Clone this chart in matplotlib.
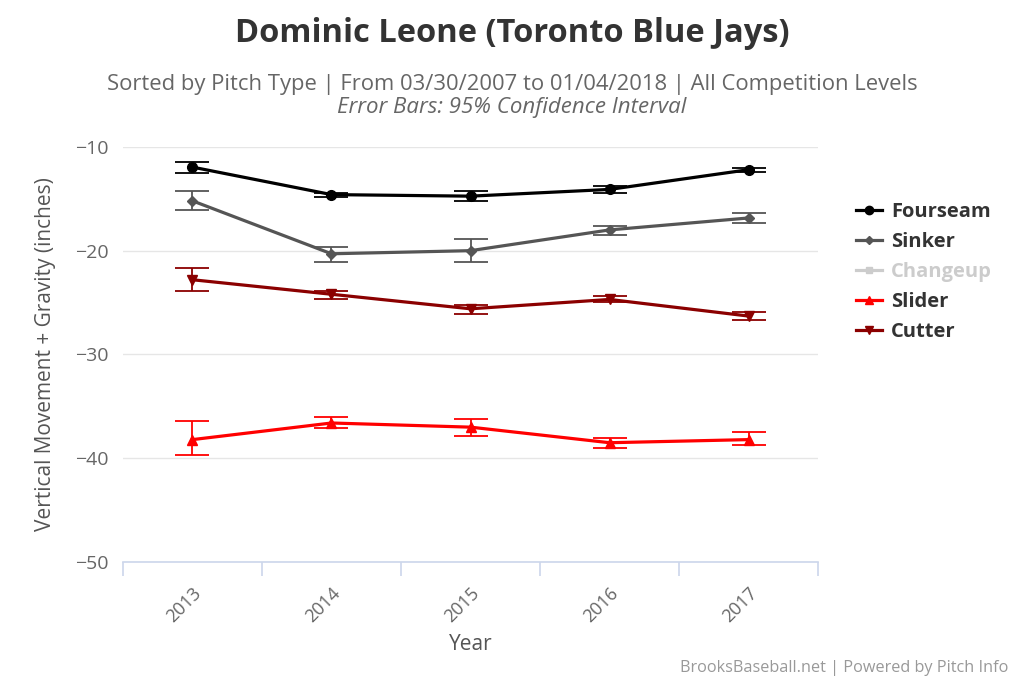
import matplotlib.pyplot as plt
from matplotlib.lines import Line2D

plt.rcParams['font.family'] = ['Open Sans', 'DejaVu Sans']

# Data
years = ["2013", "2014", "2015", "2016", "2017"]

fourseam = [-11.95, -14.6, -14.75, -14.1, -12.2]
fourseam_lo = [-12.5, -14.8, -15.2, -14.4, -12.4]
fourseam_hi = [-11.5, -14.4, -14.3, -13.8, -12.0]

sinker = [-15.2, -20.3, -20.0, -18.0, -16.85]
sinker_lo = [-16.1, -21.05, -21.05, -18.5, -17.3]
sinker_hi = [-14.3, -19.6, -18.9, -17.6, -16.4]

slider = [-38.2, -36.6, -37.0, -38.5, -38.2]
slider_lo = [-39.7, -37.1, -37.9, -39.0, -38.7]
slider_hi = [-36.4, -36.0, -36.2, -38.0, -37.5]

cutter = [-22.8, -24.2, -25.6, -24.7, -26.3]
cutter_lo = [-23.9, -24.7, -26.1, -24.95, -26.7]
cutter_hi = [-21.7, -23.9, -25.2, -24.35, -25.9]

series = [
    ("Fourseam", fourseam, fourseam_lo, fourseam_hi, "#000000", "o", 7),
    ("Sinker", sinker, sinker_lo, sinker_hi, "#555555", "D", 5),
    ("Slider", slider, slider_lo, slider_hi, "#ff0000", "^", 7),
    ("Cutter", cutter, cutter_lo, cutter_hi, "#8b0000", "v", 7),
]

fig = plt.figure(figsize=(10.24, 6.83), dpi=100)
ax = fig.add_axes([0.120, 0.177, 0.679, 0.608])

x = list(range(len(years)))
for name, vals, lo, hi, color, marker, ms in series:
    err = [[v - l for v, l in zip(vals, lo)], [h - v for v, h in zip(vals, hi)]]
    ax.errorbar(x, vals, yerr=err, color=color, ecolor=color, elinewidth=1.3,
                capsize=12, capthick=1.3, zorder=2, fmt="none")
    ax.plot(x, vals, color=color, lw=2.3, marker=marker, ms=ms, zorder=3)

ax.set_xlim(-0.5, 4.5)
ax.set_ylim(-50, -10)
ax.set_yticks([-10, -20, -30, -40, -50])
ax.set_yticklabels(["\u221210", "\u221220", "\u221230", "\u221240", "\u221250"])
ax.yaxis.grid(True, color="#e6e6e6", lw=1)
ax.set_axisbelow(True)
for s in ["top", "right", "left"]:
    ax.spines[s].set_visible(False)
ax.spines["bottom"].set_color("#ccd6eb")
ax.spines["bottom"].set_linewidth(1.2)
ax.tick_params(axis="y", length=0, labelsize=14, labelcolor="#666666", pad=10)

ax.set_xticks(x)
ax.set_xticklabels(years, rotation=45, ha="right", rotation_mode="anchor")
ax.tick_params(axis="x", length=0, labelsize=13, labelcolor="#666666", pad=16)
ax.set_xticks([i - 0.5 for i in range(len(years) + 1)], minor=True)
ax.tick_params(axis="x", which="minor", length=10, color="#ccd6eb", width=1.2)

ax.set_xlabel("Year", fontsize=15, color="#555555", labelpad=6)
ax.set_ylabel("Vertical Movement + Gravity (inches)", fontsize=15, color="#555555", labelpad=14)

fig.text(0.5, 0.951, "Dominic Leone (Toronto Blue Jays)", ha="center", va="center",
         fontsize=23.5, fontweight="bold", color="#333333")
fig.text(0.5, 0.877, "Sorted by Pitch Type | From 03/30/2007 to 01/04/2018 | All Competition Levels",
         ha="center", va="center", fontsize=15.8, color="#666666")
fig.text(0.5, 0.842, "Error Bars: 95% Confidence Interval", ha="center", va="center",
         fontsize=16, color="#666666", style="italic")
fig.text(0.985, 0.022, "BrooksBaseball.net | Powered by Pitch Info", ha="right", va="center",
         fontsize=11.7, color="#999999")

handles = [
    Line2D([], [], color="#000000", lw=2.3, marker="o", ms=6),
    Line2D([], [], color="#555555", lw=2.3, marker="D", ms=4),
    Line2D([], [], color="#cccccc", lw=2.3, marker="s", ms=5),
    Line2D([], [], color="#ff0000", lw=2.3, marker="^", ms=6),
    Line2D([], [], color="#8b0000", lw=2.3, marker="v", ms=6),
]
labels = ["Fourseam", "Sinker", "Changeup", "Slider", "Cutter"]
leg = fig.legend(handles, labels, loc="upper left", bbox_to_anchor=(0.818, 0.731),
                 frameon=False, handlelength=1.3, labelspacing=0.5,
                 handletextpad=0.45, prop={"weight": "bold", "size": 14.5})
for t, c in zip(leg.get_texts(), ["#333333", "#333333", "#cccccc", "#333333", "#333333"]):
    t.set_color(c)

fig.savefig("out.png", dpi=100)
